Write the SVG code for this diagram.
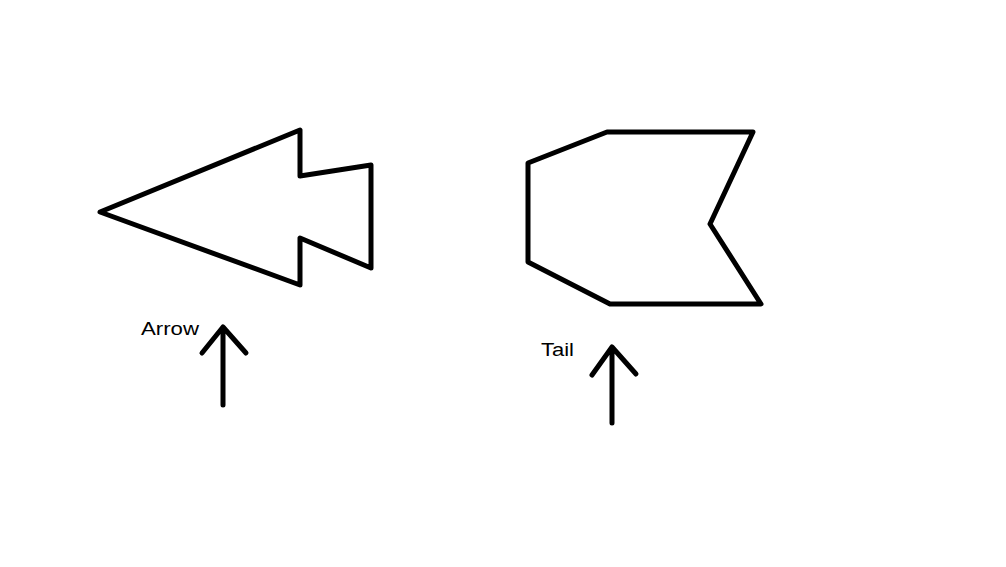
<svg xmlns="http://www.w3.org/2000/svg" width="1006" height="567" viewBox="0 0 1006 567">
<style>
.s{fill:none;stroke:#000;stroke-width:5;stroke-linejoin:round;stroke-linecap:round}
.t{font-family:"Liberation Sans",Arial,sans-serif;font-size:18px;fill:#000}
</style>
<rect width="1006" height="567" fill="#fff"/>
<g id="arrow-shape">
<polygon class="s" points="100,212 300,130 300,176 371,165 371,268 300,238 300,285"/>
</g>
<g id="tail-shape">
<polygon class="s" points="528,163 607,132 753,132 710,224 761,304 610,304 528,262"/>
</g>
<g id="label-arrow">
<text class="t" x="141" y="335" textLength="58" lengthAdjust="spacingAndGlyphs">Arrow</text>
</g>
<g id="label-tail">
<text class="t" x="541" y="356" textLength="33" lengthAdjust="spacingAndGlyphs">Tail</text>
</g>
<g id="connectors">
<path class="s" d="M223,405 V327 M202,353 L223,327 L246,353"/>
<path class="s" d="M612,423 V347 M592,375 L612,347 L636,374"/>
</g>
</svg>
